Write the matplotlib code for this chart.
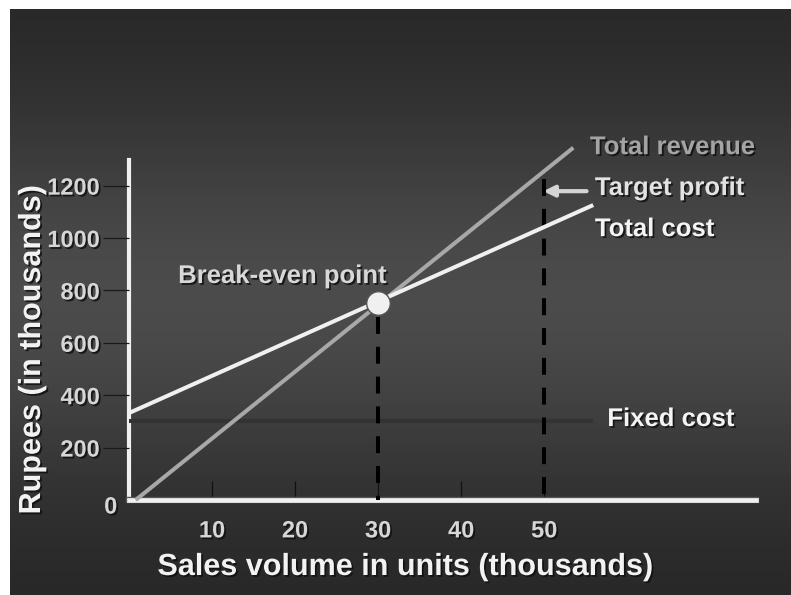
import numpy as np
import matplotlib
matplotlib.use("Agg")
import matplotlib.pyplot as plt
import matplotlib.patheffects as pe

plt.rcParams['font.family'] = ['Liberation Sans', 'DejaVu Sans']
plt.rcParams['font.weight'] = 'bold'

# ---- data (thousands) ----
x_ticks = [10, 20, 30, 40, 50]
y_ticks = [200, 400, 600, 800, 1000, 1200]
revenue_x = [0.8, 53.5]
revenue_y = [0, 1345]
cost_x = [0, 55.9]
cost_y = [332, 1126]
fixed_x = [0, 55.9]
fixed_y = [300, 300]
breakeven_x = [30]
breakeven_y = [752]
target_x = 50
target_top = 1225
be_drop_top = 700

W, H = 791, 595
fig = plt.figure(figsize=(W / 100, H / 100), dpi=100, facecolor='white')

# background gradient
bg = fig.add_axes([10 / W, 0, (W - 10) / W, (H - 9) / H])
t = np.linspace(0, 1, 300)
prof = 0.145 + 0.15 * np.exp(-((t - 0.49) / 0.33) ** 2)
grad = np.tile(prof[:, None], (1, 2))
bg.imshow(np.dstack([grad, grad, grad]), aspect='auto', extent=[0, 1, 0, 1], origin='upper')
bg.set_axis_off()

shadow = [pe.withSimplePatchShadow(offset=(1.3, -1.3), shadow_rgbFace='#101010', alpha=0.85)]

ax = fig.add_axes([129 / W, (H - 500) / H, (756 - 129) / W, (500 - 160) / H])
ax.patch.set_alpha(0)
ax.set_xlim(0, 75.5)
ax.set_ylim(0, 1298)
for s in ['top', 'right']:
    ax.spines[s].set_visible(False)
ax.spines['left'].set_color('#f0f0f0')
ax.spines['left'].set_linewidth(3.0)
ax.spines['bottom'].set_color('#f0f0f0')
ax.spines['bottom'].set_linewidth(3.4)
ax.spines['bottom'].set_path_effects([pe.Stroke(linewidth=4.6, foreground='#555555'), pe.Normal()])
ax.spines['left'].set_zorder(1)

ax.set_xticks(x_ticks)
ax.set_xticklabels([str(v) for v in x_ticks])
ax.set_yticks(y_ticks)
ax.set_yticklabels([str(v) for v in y_ticks])
ax.tick_params(axis='x', direction='in', length=14, width=0.9, color='#111111',
               pad=14, labelsize=17, labelcolor='#d6d6d6')
ax.tick_params(axis='y', direction='out', length=19, width=0.9, color='#1a1a1a',
               pad=2, labelsize=17, labelcolor='#d6d6d6')
for lab in ax.get_xticklabels() + ax.get_yticklabels():
    lab.set_fontweight('bold')
    lab.set_path_effects(shadow)

ax.text(-2.2, -27, '0', ha='center', va='center', fontsize=17, color='#d6d6d6',
        fontweight='bold', path_effects=shadow, clip_on=False)

# lines
ax.plot(fixed_x, fixed_y, color='#333333', lw=2.9, solid_capstyle='butt', zorder=3, clip_on=False)
ax.plot(revenue_x, revenue_y, color='#a8a8a8', lw=2.9, solid_capstyle='butt', zorder=4, clip_on=False)
ax.plot(cost_x, cost_y, color='#f0f0f0', lw=2.9, solid_capstyle='butt', zorder=5, clip_on=False)

ax.plot([breakeven_x[0], breakeven_x[0]], [be_drop_top, 0], color='black', lw=2.9,
        linestyle=(0, (4.2, 3.2)), zorder=3, clip_on=False)
ax.plot([target_x, target_x], [target_top, 0], color='black', lw=2.9,
        linestyle=(0, (4.2, 3.2)), zorder=3, clip_on=False)

ax.plot(breakeven_x, breakeven_y, 'o', markersize=17, markerfacecolor='#f0f0f0',
        markeredgecolor='#555555', markeredgewidth=1, zorder=7, clip_on=False)

# annotations
ax.text(55.5, 1347, 'Total revenue', ha='left', va='center', fontsize=18.5,
        color='#a4a4a4', fontweight='bold', path_effects=shadow, clip_on=False)
ax.text(56.1, 1191, 'Target profit', ha='left', va='center', fontsize=18.5,
        color='#e2e2e2', fontweight='bold', path_effects=shadow, clip_on=False)
ax.text(56.1, 1034, 'Total cost', ha='left', va='center', fontsize=18.5,
        color='#f4f4f4', fontweight='bold', path_effects=shadow, clip_on=False)
ax.text(57.6, 309, 'Fixed cost', ha='left', va='center', fontsize=18.5,
        color='#f4f4f4', fontweight='bold', path_effects=shadow, clip_on=False)
ax.text(18.5, 855, 'Break-even point', ha='center', va='center', fontsize=18.5,
        color='#d8d8d8', fontweight='bold', path_effects=shadow, clip_on=False)
ax.annotate('', xy=(49.9, 1179), xytext=(55.1, 1179),
            arrowprops=dict(arrowstyle='-|>', lw=3, color='#d4d4d4', mutation_scale=16,
                            shrinkA=0, shrinkB=0), annotation_clip=False)

fig.text(405 / W, 1 - 567 / H, 'Sales volume in units (thousands)', ha='center', va='center',
         fontsize=22, color='#f2f2f2', fontweight='bold', path_effects=shadow)
fig.text(32 / W, 1 - 350 / H, 'Rupees (in thousands)', ha='center', va='center', rotation=90,
         fontsize=22, color='#f2f2f2', fontweight='bold', path_effects=shadow)

fig.savefig('out.png', dpi=100, facecolor='white')
